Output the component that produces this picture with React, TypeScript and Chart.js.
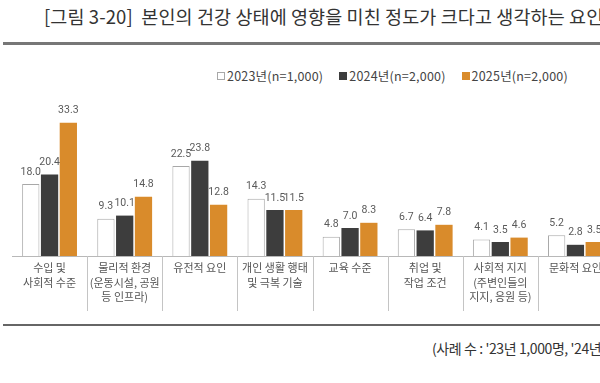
import React, { useEffect, useRef } from "react";
import { Chart, registerables } from "chart.js";

Chart.register(...registerables);

const categories: string[][] = [
  ["수입 및", "사회적 수준"],
  ["물리적 환경", "(운동시설, 공원", "등 인프라)"],
  ["유전적 요인"],
  ["개인 생활 행태", "및 극복 기술"],
  ["교육 수준"],
  ["취업 및", "작업 조건"],
  ["사회적 지지", "(주변인들의", "지지, 응원 등)"],
  ["문화적 요인"],
];
const seriesNames = ["2023년(n=1,000)", "2024년(n=2,000)", "2025년(n=2,000)"];
const values2023 = [18.0, 9.3, 22.5, 14.3, 4.8, 6.7, 4.1, 5.2];
const values2024 = [20.4, 10.1, 23.8, 11.5, 7.0, 6.4, 3.5, 2.8];
const values2025 = [33.3, 14.8, 12.8, 11.5, 8.3, 7.8, 4.6, 3.5];
const titleText = "[그림 3-20]  본인의 건강 상태에 영향을 미친 정도가 크다고 생각하는 요인";
const footnoteText = "(사례 수 : '23년 1,000명, '24년 2,000명, '25년 2,000명)";

const FONT = '"Noto Sans CJK KR", "Noto Sans", sans-serif';
const colors = ["#ffffff", "#3d3d3d", "#d98b2b"];
const borders = ["#a8a8a8", "#3d3d3d", "#d98b2b"];

const separatorPlugin = {
  id: "separators",
  afterDraw(chart: any) {
    const x = chart.scales.x;
    const { ctx, chartArea } = chart;
    ctx.save();
    ctx.strokeStyle = "#c4c4c4";
    ctx.lineWidth = 1;
    for (let i = 1; i < categories.length; i++) {
      const px = Math.round((x.getPixelForValue(i - 1) + x.getPixelForValue(i)) / 2) + 0.5;
      ctx.beginPath();
      ctx.moveTo(px, chartArea.bottom);
      ctx.lineTo(px, chartArea.bottom + 55);
      ctx.stroke();
    }
    ctx.restore();
  },
};

const valueLabelPlugin = {
  id: "valueLabels",
  afterDatasetsDraw(chart: any) {
    const { ctx } = chart;
    ctx.save();
    ctx.font = "10.5px Roboto, sans-serif";
    ctx.fillStyle = "#5a5a5a";
    ctx.textAlign = "center";
    ctx.textBaseline = "middle";
    chart.data.datasets.forEach((ds: any, di: number) => {
      const meta = chart.getDatasetMeta(di);
      meta.data.forEach((el: any, i: number) => {
        const v = ds.data[i] as number;
        ctx.fillText(v.toFixed(1), el.x, el.y - 12);
      });
    });
    ctx.restore();
  },
};

function BarChart() {
  const ref = useRef<HTMLCanvasElement>(null);
  useEffect(() => {
    if (!ref.current) return;
    const chart = new Chart(ref.current, {
      type: "bar",
      data: {
        labels: categories,
        datasets: [values2023, values2024, values2025].map((d, i) => ({
          label: seriesNames[i],
          data: d,
          backgroundColor: colors[i],
          borderColor: borders[i],
          borderWidth: i === 0 ? 1 : 0,
          categoryPercentage: 0.75,
          barPercentage: 0.92,
        })),
      },
      options: {
        responsive: false,
        animation: false,
        layout: { padding: { left: 12, right: 27, top: 6, bottom: 4 } },
        plugins: { legend: { display: false }, tooltip: { enabled: false } },
        scales: {
          y: { display: false, min: 0, max: 40 },
          x: {
            afterFit: (s: any) => {
              s.height = 70;
            },
            grid: { display: true, drawOnChartArea: false, drawTicks: false, color: "transparent" },
            border: { display: true, color: "#b8b8b8", width: 1 },
            ticks: {
              color: "#555",
              font: { family: FONT, size: 11, lineHeight: 1.3 },
              padding: 5,
              maxRotation: 0,
              autoSkip: false,
            },
          },
        },
      },
      plugins: [separatorPlugin, valueLabelPlugin],
    });
    return () => chart.destroy();
  }, []);
  return <canvas ref={ref} width={640} height={240} style={{ display: "block" }} />;
}

export default function App() {
  const legendItem = (i: number) => (
    <span key={i} style={{ display: "inline-flex", alignItems: "center", marginRight: i < 2 ? 16 : 0 }}>
      <span
        style={{
          display: "inline-block",
          width: 6,
          height: 6,
          background: colors[i],
          border: `1px solid ${borders[i]}`,
          marginRight: 2,
        }}
      />
      {seriesNames[i]}
    </span>
  );
  return (
    <div
      style={{
        position: "fixed",
        left: 0,
        top: 0,
        width: 600,
        height: 383,
        overflow: "hidden",
        background: "#fff",
        fontFamily: FONT,
      }}
    >
      <div
        style={{
          position: "absolute",
          left: 44,
          top: 3,
          whiteSpace: "pre",
          fontSize: 18.5,
          color: "#333",
          letterSpacing: 0.1,
        }}
      >
        {titleText}
      </div>
      <div style={{ position: "absolute", left: 3, top: 42, width: 620, height: 3, background: "#777" }} />
      <div
        style={{
          position: "absolute",
          left: 217,
          top: 66,
          whiteSpace: "nowrap",
          fontSize: 12.5,
          color: "#444",
          lineHeight: "18px",
          letterSpacing: 0.2,
        }}
      >
        {[0, 1, 2].map(legendItem)}
      </div>
      <div style={{ position: "absolute", left: 0, top: 90 }}>
        <BarChart />
      </div>
      <div style={{ position: "absolute", left: 3, top: 324, width: 620, height: 2, background: "#666" }} />
      <div
        style={{
          position: "absolute",
          left: 432,
          top: 338,
          whiteSpace: "nowrap",
          fontSize: 14,
          color: "#333",
          letterSpacing: -0.4,
        }}
      >
        {footnoteText}
      </div>
    </div>
  );
}
